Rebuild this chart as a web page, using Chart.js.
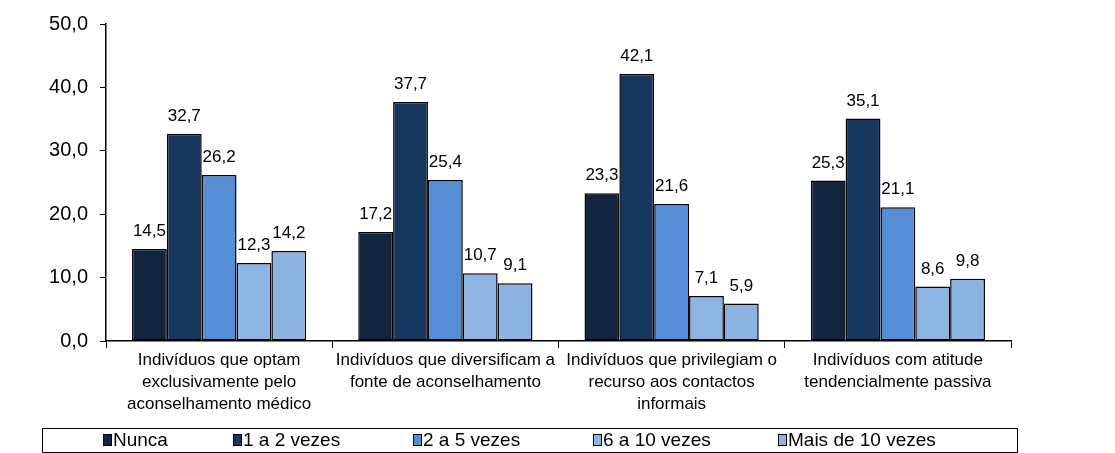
<!DOCTYPE html>
<html><head><meta charset="utf-8">
<script src="https://cdn.jsdelivr.net/npm/chart.js@4/dist/chart.umd.min.js"></script>
<style>html,body{margin:0;padding:0;background:#fff}#w{width:1115px;height:453px}</style>
</head><body><div id="w"><canvas id="c" width="1115" height="453"></canvas></div>
<script>
const categories = [
  ["Indivíduos que optam","exclusivamente pelo","aconselhamento médico"],
  ["Indivíduos que diversificam a","fonte de aconselhamento"],
  ["Indivíduos que privilegiam o","recurso aos contactos","informais"],
  ["Indivíduos com atitude","tendencialmente passiva"]
];
const seriesNames = ["Nunca","1 a 2 vezes","2 a 5 vezes","6 a 10 vezes","Mais de 10 vezes"];
const nunca = [14.5, 17.2, 23.3, 25.3];
const vezes1a2 = [32.7, 37.7, 42.1, 35.1];
const vezes2a5 = [26.2, 25.4, 21.6, 21.1];
const vezes6a10 = [12.3, 10.7, 7.1, 8.6];
const maisDe10 = [14.2, 9.1, 5.9, 9.8];
const yTicks = [0, 10, 20, 30, 40, 50];
const colors = ["#13243f","#18375e","#558ed5","#8eb4e3","#8db3e2"];
const values = [nunca, vezes1a2, vezes2a5, vezes6a10, maisDe10];

const fmt = v => v.toFixed(1).replace('.', ',');

const labelPlugin = {
  id: 'labels',
  afterDatasetsDraw(chart) {
    const ctx = chart.ctx;
    ctx.save();
    ctx.font = '17px "Liberation Sans", Arial, sans-serif';
    ctx.fillStyle = '#000';
    ctx.textAlign = 'center';
    ctx.textBaseline = 'bottom';
    chart.data.datasets.forEach((ds, i) => {
      chart.getDatasetMeta(i).data.forEach((bar, j) => {
        ctx.fillText(fmt(ds.data[j]), bar.x, bar.y - 9);
      });
    });
    ctx.restore();
  }
};

const legendPlugin = {
  id: 'boxLegend',
  afterDraw(chart) {
    const ctx = chart.ctx;
    ctx.save();
    ctx.strokeStyle = '#000';
    ctx.lineWidth = 1;
    ctx.strokeRect(42.5, 428.5, 975, 24);
    const xs = [103, 233, 413, 593, 778];
    ctx.font = '19px "Liberation Sans", Arial, sans-serif';
    ctx.textBaseline = 'middle';
    ctx.textAlign = 'left';
    chart.data.datasets.forEach((ds, i) => {
      const x = xs[i];
      ctx.fillStyle = ds.backgroundColor;
      ctx.fillRect(x, 434, 9, 12);
      ctx.strokeStyle = '#000';
      ctx.strokeRect(x + 0.5, 434.5, 8, 11);
      ctx.fillStyle = '#000';
      ctx.fillText(ds.label, x + 10, 441);
    });
    ctx.restore();
  }
};

new Chart(document.getElementById('c'), {
  type: 'bar',
  data: {
    labels: categories,
    datasets: seriesNames.map((n, i) => ({
      label: n,
      data: values[i],
      backgroundColor: colors[i],
      borderColor: '#000',
      borderWidth: 1.5,
      borderSkipped: false,
      categoryPercentage: 0.77,
      barPercentage: 1.0
    }))
  },
  options: {
    responsive: false,
    animation: false,
    devicePixelRatio: 1,
    layout: { padding: { left: 0, right: 104, top: 24, bottom: 0 } },
    plugins: { legend: { display: false }, tooltip: { enabled: false } },
    scales: {
      x: {
        grid: { display: true, drawOnChartArea: false, offset: true, tickLength: 7, color: '#000' },
        border: { display: true, color: '#000', width: 1.5 },
        ticks: {
          color: '#000', maxRotation: 0, autoSkip: false, padding: 1,
          font: { family: '"Liberation Sans", Arial, sans-serif', size: 17, lineHeight: 1.3 }
        },
        afterFit(s) { s.height = 112; }
      },
      y: {
        min: 0, max: 50,
        afterBuildTicks(s) { s.ticks = yTicks.map(v => ({ value: v })); },
        grid: { display: true, drawOnChartArea: false, tickLength: 6, color: '#000' },
        border: { display: true, color: '#000', width: 1.5 },
        ticks: {
          color: '#000', padding: 12,
          font: { family: '"Liberation Sans", Arial, sans-serif', size: 20 },
          callback: v => fmt(v)
        },
        afterFit(s) { s.width = 106; }
      }
    }
  },
  plugins: [labelPlugin, legendPlugin]
});
</script>
</body></html>
